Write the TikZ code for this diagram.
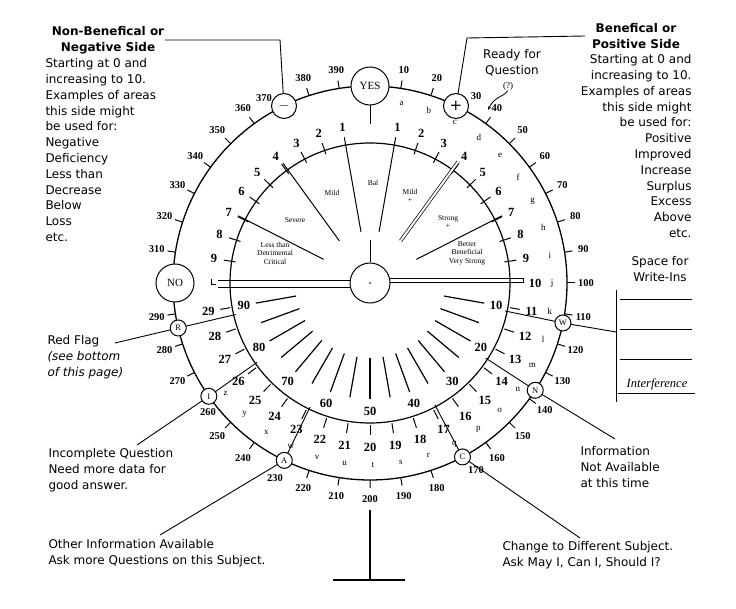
\documentclass[tikz,border=0pt]{standalone}
\usepackage{fontspec}
\setmainfont{DejaVu Sans}
\newfontfamily\dialf{Liberation Serif}
\usetikzlibrary{arrows.meta}
\begin{document}
\begin{tikzpicture}[x=1pt,y=-1pt,line width=1pt,
  dialnum/.style={font=\dialf\fontsize{10.5}{10.5}\selectfont\bfseries,inner sep=0pt},
  innum/.style={font=\dialf\fontsize{12.5}{12.5}\selectfont\bfseries,inner sep=0pt},
  letr/.style={font=\dialf\fontsize{9}{9}\selectfont,inner sep=0pt},
  sect/.style={font=\dialf\fontsize{7.5}{8.5}\selectfont,align=center,inner sep=0pt},
  bigc/.style={circle,draw,fill=white,line width=1pt,minimum size=38pt,inner sep=0pt,font=\dialf\fontsize{11}{11}\selectfont},
  pmc/.style={circle,draw,fill=white,line width=1pt,minimum size=25pt,inner sep=0pt,font=\fontsize{15}{15}\selectfont},
  letc/.style={circle,draw,fill=white,line width=1pt,minimum size=16pt,inner sep=0pt,font=\dialf\fontsize{8.5}{8.5}\selectfont},
  txt/.style={font=\fontsize{12}{15.8}\selectfont,inner sep=0pt},
  lead/.style={line width=0.9pt}]
\useasboundingbox (0,0) rectangle (736,609);
\coordinate (O) at (370,283);
% circles
\draw[line width=1.3pt] (O) circle [radius=197pt];
\draw[line width=1.2pt] (O) circle [radius=140pt];
% outer ticks and labels
\foreach \v in {10,20,40,50,60,70,80,90,100,110,120,130,140,150,160,180,190,200,210,220,240,250,270,280,290,310,320,330,340,350,360,380,390}{
  \pgfmathsetmacro\t{0.9*\v}
  \draw ({370+197*sin(\t)},{283-197*cos(\t)}) -- ({370+205*sin(\t)},{283-205*cos(\t)});
  \node[dialnum] at ({370+216*sin(\t)},{283-216*cos(\t)}) {\v};
}
\node[dialnum] at (476,96) {30};
\node[dialnum] at (264,98) {370};
\node[dialnum] at (476,470) {170};
\node[dialnum] at (208,412) {260};
\node[dialnum] at (275,478) {230};
% letters
\foreach \l [count=\i from 0] in {a,b,c,d,e,f,g,h,i,j,k,l,m,n,o,p,q,r,s,t,u,v,w,x,y,z}{
  \pgfmathsetmacro\t{10+8.9*\i}
  \node[letr] at ({370+182*sin(\t)},{283-182*cos(\t)}) {\l};
}
% inner top numbers and ticks
\foreach \k in {1,...,9}{
  \pgfmathsetmacro\t{10+(\k-1)*80/9}
  \node[innum] at ({370+158*sin(\t)},{283-158*cos(\t)}) {\k};
  \node[innum] at ({370-158*sin(\t)},{283-158*cos(\t)}) {\k};
  \ifnum\k>1
  \draw ({370+136*sin(\t)},{283-136*cos(\t)}) -- ({370+148*sin(\t)},{283-148*cos(\t)});
  \draw ({370-136*sin(\t)},{283-136*cos(\t)}) -- ({370-148*sin(\t)},{283-148*cos(\t)});
  \fi
}
\node[innum] at (535,283) {10};
% lower ring numbers 11..29
\foreach \n in {11,...,29}{
  \pgfmathsetmacro\t{180+(\n-20)*80/9}
  \draw ({370+142*sin(\t)},{283-142*cos(\t)}) -- ({370+152*sin(\t)},{283-152*cos(\t)});
  \node[innum] at ({370+164*sin(\t)},{283-164*cos(\t)}) {\n};
}
% lower inner labels and lines
\foreach \v in {10,20,...,90}{
  \pgfmathsetmacro\t{80+2*\v}
  \node[innum] at ({370+128*sin(\t)},{283-128*cos(\t)}) {\v};
}
\foreach \t in {100,110,...,260}{
  \draw[line width=1.2pt] ({370+75*sin(\t)},{283-75*cos(\t)}) -- ({370+116*sin(\t)},{283-116*cos(\t)});
}
% dividers
\foreach \a in {-63,-36,-10,10,63}{
  \draw ({370+52*sin(\a)},{283-52*cos(\a)}) -- ({370+148*sin(\a)},{283-148*cos(\a)});
}
\draw[double,double distance=2pt,line width=0.7pt] ({370+52*sin(36)},{283-52*cos(36)}) -- ({370+150*sin(36)},{283-150*cos(36)});
% sector labels
\node[sect] at (373,183) {Bal};
\node[sect] at (332,193) {Mild};
\node[sect] at (410,196) {Mild\\+};
\node[sect] at (295,220) {Severe};
\node[sect] at (448,222) {Strong\\+};
\node[sect] at (275,253) {Less than\\Detrimental\\Critical};
\node[sect] at (467,253) {Better\\Beneficial\\Very Strong};
% center
\draw (370,105) -- (370,124);
\draw (370,240) -- (370,262);
\draw (218,281) -- (352,281);
\draw (218,288) -- (352,288);
\draw (211,279) -- (211,285) -- (216,285);
\draw[line width=0.8pt] (388,278) rectangle (523,282);
\node[circle,draw,fill=white,minimum size=40pt,inner sep=0pt] (ctr) at (O) {};
\fill (370,283) circle [radius=0.8pt];
% stand
\draw[line width=1.3pt] (370,510) -- (370,580);
\draw[line width=1.3pt] (333,580) -- (405,580);
% inner connections
\foreach \nm/\t in {W/101.7,N/123,C/152,A/205.8,I/234.9,R/256.8}{
  \coordinate (in\nm) at ({370+138*sin(\t)},{283-138*cos(\t)});
  \coordinate (on\nm) at ({370+197*sin(\t)},{283-197*cos(\t)});
  \draw[lead] (in\nm) -- (on\nm);
}
% leaders
\coordinate (lw) at (616,332); \coordinate (ln) at (615,439);
\coordinate (lc) at (580,538); \coordinate (la) at (160,535);
\coordinate (li) at (137,445); \coordinate (lr) at (115,343);
\coordinate (lm1) at (280,40); \coordinate (lm2) at (165,40);
\coordinate (lp1) at (467,38); \coordinate (lp2) at (585,36);
\draw[lead] (onW) -- (lw);
\draw[lead] (onN) -- (ln);
\draw[lead] (onC) -- (lc);
\draw[lead] (onA) -- (la);
\draw[lead] (onI) -- (li);
\draw[lead] (onR) -- (lr);
\draw[lead] (284,106) -- (lm1) -- (lm2);
\draw[lead] (456,106) -- (lp1) -- (lp2);
% dial circles
\node[bigc] (yes) at (370,86) {YES};
\node[bigc] (no) at (175,283) {NO};
\node[pmc] (minus) at (284,106) {$-$};
\node[pmc] (plus) at (456,106) {+};
\foreach \nm in {W,N,C,A,I,R}{
  \node[letc] (c\nm) at (on\nm) {\nm};
}
% ready for question
\node[txt,align=center] (rq) at (512,63) {Ready for\\Question};
\node[letr] (qm) at (508,86) {(?)};
\draw[-{Stealth[length=4pt]},line width=0.8pt] (qm.south) .. controls (502,98) and (495,96) .. (488,110);
% text blocks
\node[txt,align=center,font=\fontsize{12}{15.8}\selectfont\bfseries] (tl) at (108,40) {Non-Benefical or\\Negative Side};
\node[txt,align=left,anchor=north west] (bl) at (45,58) {Starting at 0 and\\increasing to 10.\\Examples of areas\\this side might\\be used for:\\Negative\\Deficiency\\Less than\\Decrease\\Below\\Loss\\etc.};
\node[txt,align=center,font=\fontsize{12}{15.8}\selectfont\bfseries] (tr) at (636,36) {Benefical or\\Positive Side};
\node[txt,align=right,anchor=north east] (br) at (692,54) {Starting at 0 and\\increasing to 10.\\Examples of areas\\this side might\\be used for:\\Positive\\Improved\\Increase\\Surplus\\Excess\\Above\\etc.};
\node[txt,align=center] (sw) at (660,269) {Space for\\Write-Ins};
\draw (616,290) -- (616,402);
\draw (620,300) -- (692,300);
\draw (620,330) -- (692,330);
\draw (620,360) -- (692,360);
\node[font=\dialf\itshape\fontsize{12.5}{12.5}\selectfont,inner sep=0pt] (intf) at (657,384) {Interference};
\draw (618,393) -- (695,393);
\node[txt,align=left,anchor=north west] (inf) at (580,446) {Information\\Not Available\\at this time};
\node[txt,align=left,anchor=north west] (chg) at (502,541) {Change to Different Subject.\\Ask May I, Can I, Should I?};
\node[txt,align=left,anchor=north west] (inc) at (48,448) {Incomplete Question\\Need more data for\\good answer.};
\node[txt,align=left,anchor=north west] (oth) at (48,539) {Other Information Available\\Ask more Questions on this Subject.};
\node[txt,align=left,anchor=north west] (rf) at (47,335) {Red Flag\\\textit{(see bottom}\\\textit{of this page)}};
\end{tikzpicture}
\end{document}
